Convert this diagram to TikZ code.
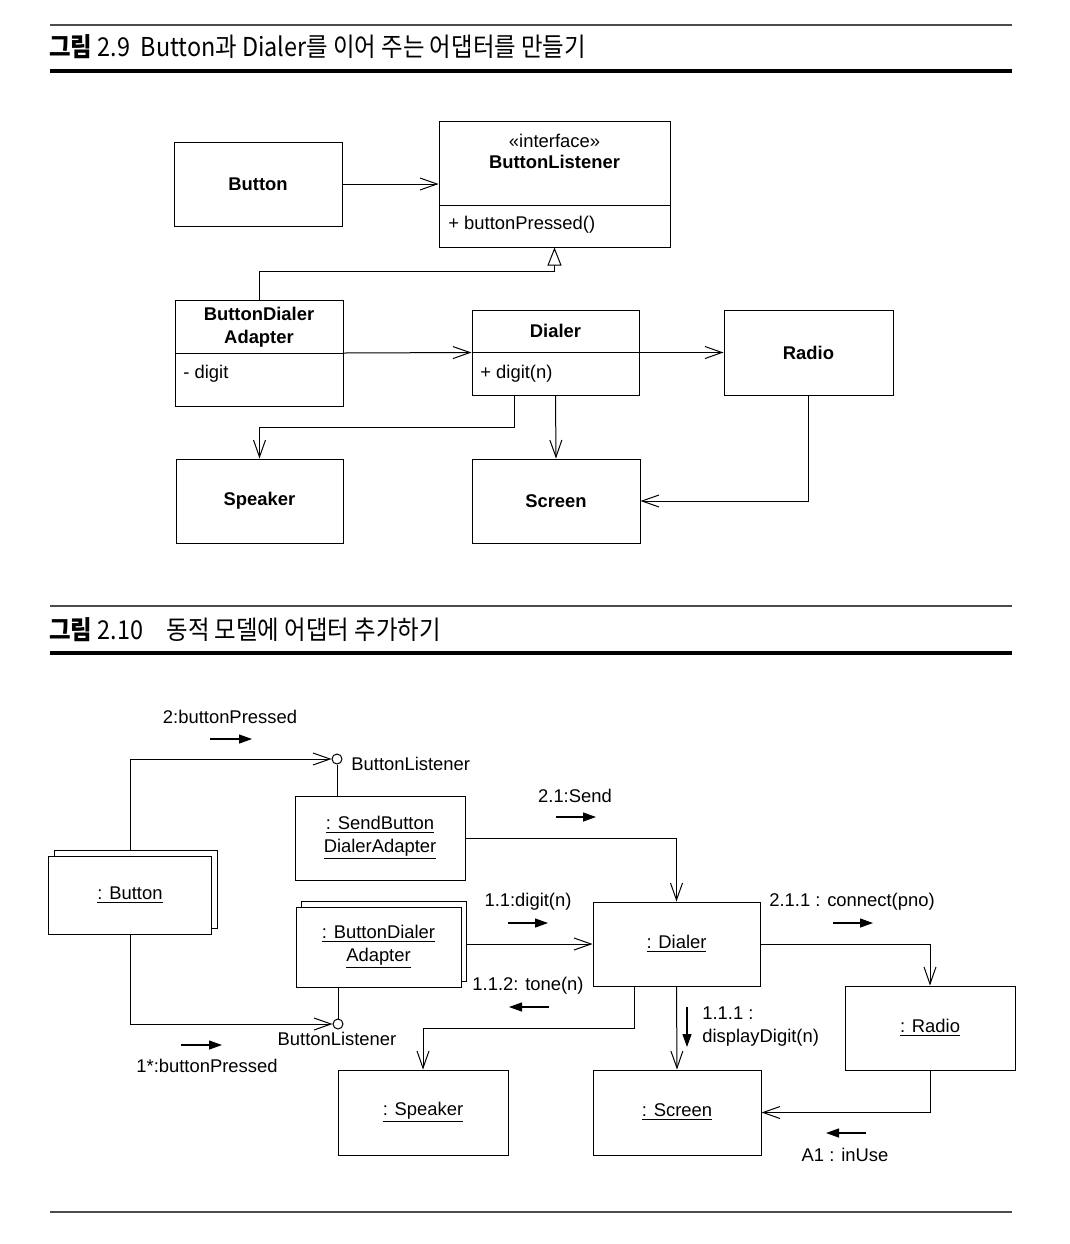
\documentclass[tikz,border=0pt]{standalone}
\usepackage{fontspec}
\usepackage{graphicx}
\setmainfont{Liberation Sans}
\newfontfamily\krfont{Noto Sans CJK KR}
\usetikzlibrary{arrows.meta, calc}
\newcommand{\umlfont}{\fontsize{9.2}{11.5}\selectfont}
\tikzset{
    cls/.style={draw, line width=0.5pt, inner sep=0pt, font=\bfseries\umlfont, align=center},
    obj/.style={draw, line width=0.5pt, inner sep=0pt, fill=white, align=center, font=\umlfont},
    txt/.style={inner sep=0pt, font=\umlfont},
    dep/.style={line width=0.5pt, -{Straight Barb[length=8.5pt, width=6pt]}},
    gen/.style={line width=0.5pt, -{Triangle[open, length=9pt, width=7pt]}},
    msg/.style={line width=0.6pt, -{Triangle[length=6.5pt, width=4.5pt]}},
    lolly/.style={draw, circle, line width=0.5pt, minimum size=5pt, inner sep=0pt, fill=white},
    thinrule/.style={line width=0.7pt, black!70},
    thickrule/.style={line width=1.6pt},
    caption/.style={anchor=west, inner sep=0pt, font=\krfont\fontsize{13}{15}\selectfont},
    }

\begin{document}
\begin{tikzpicture}[x=0.5pt, y=-0.5pt]
    \useasboundingbox (0,0) rectangle (1070,1244);

    % figure 2.9 caption
    \draw[thinrule] (50,25) -- (1012,25);
    \node[caption] (cap1) at (49,47) {\scalebox{0.9}[1]{{\bfseries 그림} 2.9\ \ Button과 Dialer를 이어 주는 어댑터를 만들기}};
    \draw[thickrule] (50,71) -- (1012,71);

    % class diagram
    \node[cls, minimum width=84pt, minimum height=42pt] (button) at (258,184) {Button};

    \node[cls, minimum width=115.5pt, minimum height=63pt] (blist) at (554.5,184) {};
    \node[txt] (blistst) at (554.5,141) {«interface»};
    \node[txt, font=\bfseries\umlfont] (blistname) at (554.5,162) {ButtonListener};
    \draw[line width=0.5pt] (blist.west |- 0,205) -- (blist.east |- 0,205);
    \node[txt, anchor=west] (blistop) at (448,225) {+ buttonPressed()};

    \node[cls, minimum width=84pt, minimum height=53pt] (bda) at (259,353) {};
    \node[txt, font=\bfseries\umlfont, align=center] (bdaname) at (259,327) {ButtonDialer\\Adapter};
    \draw[line width=0.5pt] (bda.west) -- (bda.east);
    \node[txt, anchor=west] (bdaattr) at (183,374) {- digit};

    \node[cls, minimum width=83.5pt, minimum height=42.5pt] (dialer) at (555.5,352.5) {};
    \node[txt, font=\bfseries\umlfont] (dialername) at (555.5,331) {Dialer};
    \draw[line width=0.5pt] (dialer.west) -- (dialer.east);
    \node[txt, anchor=west] (dialerop) at (480,374) {+ digit(n)};

    \node[cls, minimum width=84.5pt, minimum height=42.5pt] (radio) at (808.5,352.5) {Radio};
    \node[cls, minimum width=83.5pt, minimum height=42pt] (speaker) at (259.5,501) {Speaker};
    \node[cls, minimum width=84pt, minimum height=42pt] (screen) at (556,501) {Screen};

    \draw[dep] (button.east) -- (button.east -| blist.west);
    \draw[gen] (bda.north) -- ++(0,-28) -| (blist.south);
    \draw[dep] (bda.east) -- (dialer.west);
    \draw[dep] (dialer.east) -- (radio.west);
    \draw[dep] ($(dialer.south)+(-41.5,0)$) -- ++(0,32) -| (speaker.north);
    \draw[dep] (dialer.south) -- (screen.north);
    \draw[dep] (radio.south) |- (screen.east);

    % figure 2.10 caption
    \draw[thinrule] (50,606) -- (1012,606);
    \node[caption] (cap2) at (49,630) {\scalebox{0.9}[1]{{\bfseries 그림} 2.10\quad 동적 모델에 어댑터 추가하기}};
    \draw[thickrule] (50,653) -- (1012,653);

    % collaboration diagram
    \node[obj, minimum width=81.5pt, minimum height=39pt] (btnb) at (135.5,889) {};
    \node[obj, minimum width=81.5pt, minimum height=39pt] (btn) at (130,895) {\underline{: Button}};

    \node[obj, minimum width=85pt, minimum height=42pt] (sba) at (380,838) {\underline{: SendButton}\\\underline{DialerAdapter}};

    \node[obj, minimum width=82.5pt, minimum height=40pt] (bdaob) at (383.5,941) {};
    \node[obj, minimum width=82.5pt, minimum height=40pt] (bdao) at (378.5,947) {\underline{: ButtonDialer}\\\underline{Adapter}};

    \node[obj, minimum width=83.5pt, minimum height=42pt] (dialero) at (676.5,944) {\underline{: Dialer}};
    \node[obj, minimum width=85pt, minimum height=42pt] (radioo) at (930,1028) {\underline{: Radio}};
    \node[obj, minimum width=85pt, minimum height=42.5pt] (speakero) at (423,1112.5) {\underline{: Speaker}};
    \node[obj, minimum width=84pt, minimum height=42.5pt] (screeno) at (677,1112.5) {\underline{: Screen}};

    % interfaces
    \node[lolly] (lolup) at (337,759) {};
    \node[txt, anchor=west] (lolupname) at (351,764) {ButtonListener};
    \node[lolly] (loldown) at (338,1024) {};
    \node[txt] (loldownname) at (337,1039) {ButtonListener};

    \draw[line width=0.5pt] (lolup.south) -- (lolup |- sba.north);
    \draw[line width=0.5pt] (loldown.north) -- (loldown |- bdao.south);
    \draw[dep] (btn.north |- btnb.north) |- (lolup.west);
    \draw[dep] (btn.south) |- (loldown.west);

    \draw[dep] (sba.east) -| (dialero.north);
    \draw[dep] (dialero.west -| bdaob.east) -- (dialero.west);
    \draw[dep] (dialero.east) -| (radioo.north);
    \draw[dep] ($(dialero.south)+(-42.5,0)$) -- ++(0,42) -| (speakero.north);
    \draw[dep] (dialero.south) -- (screeno.north);
    \draw[dep] (radioo.south) |- (screeno.east);

    % messages
    \node[txt] (m2) at (230,717) {2:buttonPressed};
    \draw[msg] ($(m2)+(-20,22)$) -- ++(42,0);
    \node[txt] (m21) at (575,796) {2.1:Send};
    \draw[msg] ($(m21)+(-19,21)$) -- ++(40,0);
    \node[txt] (m11) at (528,902) {1.1:digit(n)};
    \draw[msg] ($(m11)+(-20,21)$) -- ++(40,0);
    \node[txt] (m112) at (528,986) {1.1.2: tone(n)};
    \draw[msg] ($(m112)+(21,21)$) -- ++(-40,0);
    \node[txt, anchor=west, align=left] (m111) at (702,1027) {1.1.1 :\\displayDigit(n)};
    \draw[msg] ($(m111.west)+(-15,-20)$) -- ++(0,40);
    \node[txt] (m211) at (852,902) {2.1.1 : connect(pno)};
    \draw[msg] ($(m211)+(-19,21)$) -- ++(40,0);
    \node[txt] (ma1) at (845,1155) {A1 : inUse};
    \draw[msg] ($(ma1)+(21,-22)$) -- ++(-40,0);
    \node[txt] (m1) at (207,1066) {1*:buttonPressed};
    \draw[msg] ($(m1)+(-26,-21)$) -- ++(41,0);

    \draw[thinrule] (50,1212) -- (1012,1212);
\end{tikzpicture}
\end{document}
